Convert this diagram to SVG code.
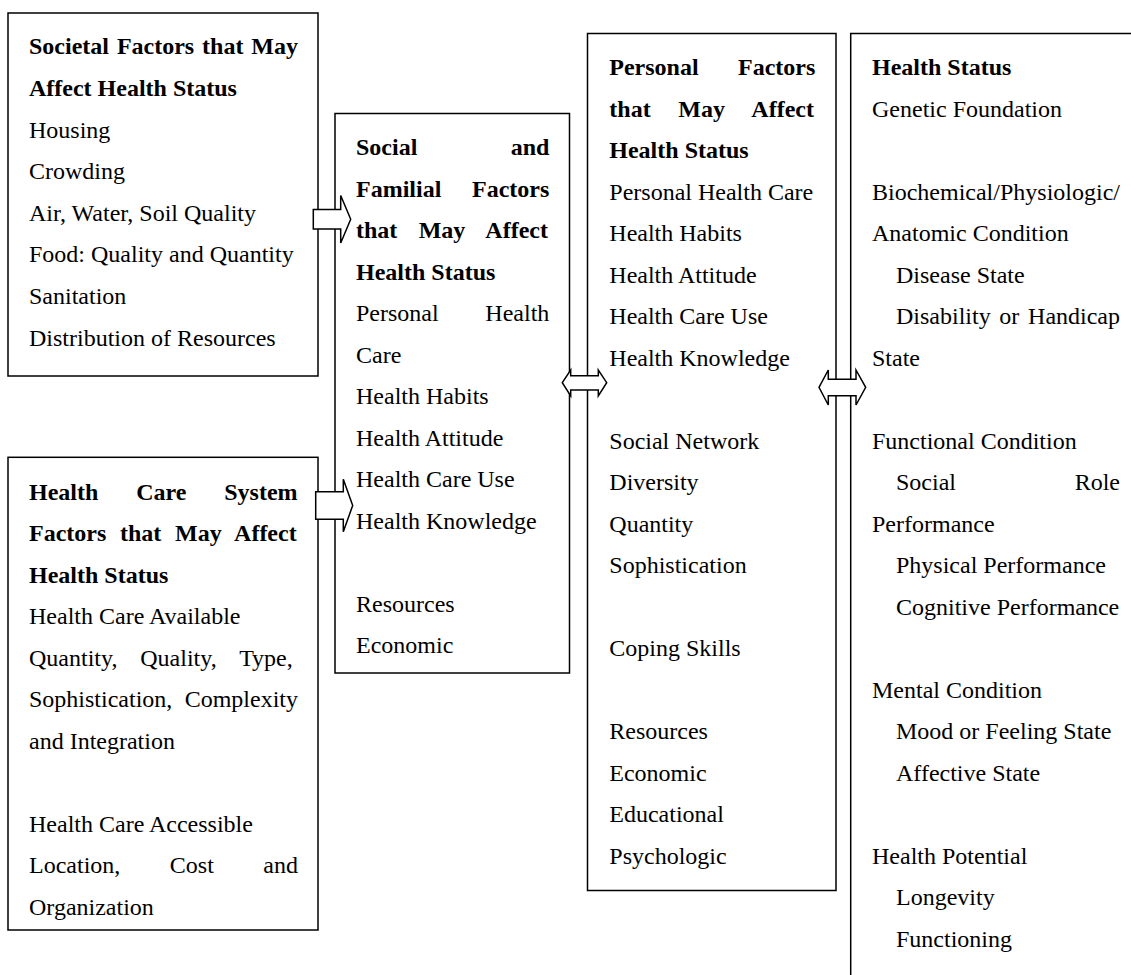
<svg xmlns="http://www.w3.org/2000/svg" width="1131" height="975" viewBox="0 0 1131 975">
<style>
.box{fill:#fff;stroke:#000;stroke-width:1.5}
.arrow{fill:#fff;stroke:#000;stroke-width:1.5;stroke-linejoin:miter}
text{font-family:"Liberation Serif","Times New Roman",serif;font-size:24px;fill:#000}
.b{font-weight:bold}
</style>
<rect width="1131" height="975" fill="#fff"/>
<g id="societal">
<rect class="box" x="8" y="13" width="310" height="363"/>
<text x="29" y="54.3" class="b" word-spacing="1.9">Societal Factors that May</text>
<text x="29" y="95.9" class="b">Affect Health Status</text>
<text x="29" y="137.5">Housing</text>
<text x="29" y="179.1">Crowding</text>
<text x="29" y="220.7">Air, Water, Soil Quality</text>
<text x="29" y="262.3">Food: Quality and Quantity</text>
<text x="29" y="303.9">Sanitation</text>
<text x="29" y="345.5">Distribution of Resources</text>
</g>
<g id="healthcare">
<rect class="box" x="8" y="457.3" width="310" height="472.7"/>
<text x="29" y="499.5" class="b" word-spacing="31.85">Health Care System</text>
<text x="29" y="541" class="b" word-spacing="7.7">Factors that May Affect</text>
<text x="29" y="582.5" class="b">Health Status</text>
<text x="29" y="624">Health Care Available</text>
<text x="29" y="665.5" word-spacing="16.85">Quantity, Quality, Type,</text>
<text x="29" y="707" word-spacing="6.3">Sophistication, Complexity</text>
<text x="29" y="748.5">and Integration</text>
<text x="29" y="831.5">Health Care Accessible</text>
<text x="29" y="873" word-spacing="43.5">Location, Cost and</text>
<text x="29" y="914.5">Organization</text>
</g>
<g id="social">
<rect class="box" x="335" y="113.5" width="234.5" height="559.5"/>
<text x="356" y="155" class="b" word-spacing="87.3">Social and</text>
<text x="356" y="196.5" class="b" word-spacing="24.7">Familial Factors</text>
<text x="356" y="238" class="b" word-spacing="15.35">that May Affect</text>
<text x="356" y="279.5" class="b">Health Status</text>
<text x="356" y="321" word-spacing="40.7">Personal Health</text>
<text x="356" y="362.5">Care</text>
<text x="356" y="404">Health Habits</text>
<text x="356" y="445.5">Health Attitude</text>
<text x="356" y="487">Health Care Use</text>
<text x="356" y="528.5">Health Knowledge</text>
<text x="356" y="611.5">Resources</text>
<text x="356" y="653">Economic</text>
</g>
<g id="personal">
<rect class="box" x="587.5" y="33.5" width="248.5" height="857"/>
<text x="609.3" y="75" class="b" word-spacing="33.4">Personal Factors</text>
<text x="609.3" y="116.5" class="b" word-spacing="21.7">that May Affect</text>
<text x="609.3" y="158" class="b">Health Status</text>
<text x="609.3" y="199.5">Personal Health Care</text>
<text x="609.3" y="241">Health Habits</text>
<text x="609.3" y="282.5">Health Attitude</text>
<text x="609.3" y="324">Health Care Use</text>
<text x="609.3" y="365.5">Health Knowledge</text>
<text x="609.3" y="448.5">Social Network</text>
<text x="609.3" y="490">Diversity</text>
<text x="609.3" y="531.5">Quantity</text>
<text x="609.3" y="573">Sophistication</text>
<text x="609.3" y="656">Coping Skills</text>
<text x="609.3" y="739">Resources</text>
<text x="609.3" y="780.5">Economic</text>
<text x="609.3" y="822">Educational</text>
<text x="609.3" y="863.5">Psychologic</text>
</g>
<g id="status">
<rect class="box" x="850.7" y="33.5" width="400" height="1000"/>
<text x="872" y="75" class="b">Health Status</text>
<text x="872" y="116.5">Genetic Foundation</text>
<text x="872" y="199.5">Biochemical/Physiologic/</text>
<text x="872" y="241">Anatomic Condition</text>
<text x="896" y="282.5">Disease State</text>
<text x="896" y="324" word-spacing="2.7">Disability or Handicap</text>
<text x="872" y="365.5">State</text>
<text x="872" y="448.5">Functional Condition</text>
<text x="896" y="490" word-spacing="112.7">Social Role</text>
<text x="872" y="531.5">Performance</text>
<text x="896" y="573">Physical Performance</text>
<text x="896" y="614.5">Cognitive Performance</text>
<text x="872" y="697.5">Mental Condition</text>
<text x="896" y="739">Mood or Feeling State</text>
<text x="896" y="780.5">Affective State</text>
<text x="872" y="863.5">Health Potential</text>
<text x="896" y="905">Longevity</text>
<text x="896" y="946.5">Functioning</text>
</g>
<g id="connectors">
<polygon class="arrow" points="313.3,209.5 340.7,209.5 340.7,195.5 350.7,219.3 340.7,243 340.7,229 313.3,229"/>
<polygon class="arrow" points="315.7,491.7 343.3,491.7 343.3,479.3 352.7,505.5 343.3,531.7 343.3,519.3 315.7,519.3"/>
<polygon class="arrow" points="562.3,382.7 570.7,370 570.7,375.7 598.3,375.7 598.3,370 606.7,382.7 598.3,396 598.3,390 570.7,390 570.7,396"/>
<polygon class="arrow" points="819,387.3 828.3,370 828.3,379.3 856,379.3 856,370 865.7,387.3 856,405 856,395.7 828.3,395.7 828.3,405"/>
</g>
</svg>
